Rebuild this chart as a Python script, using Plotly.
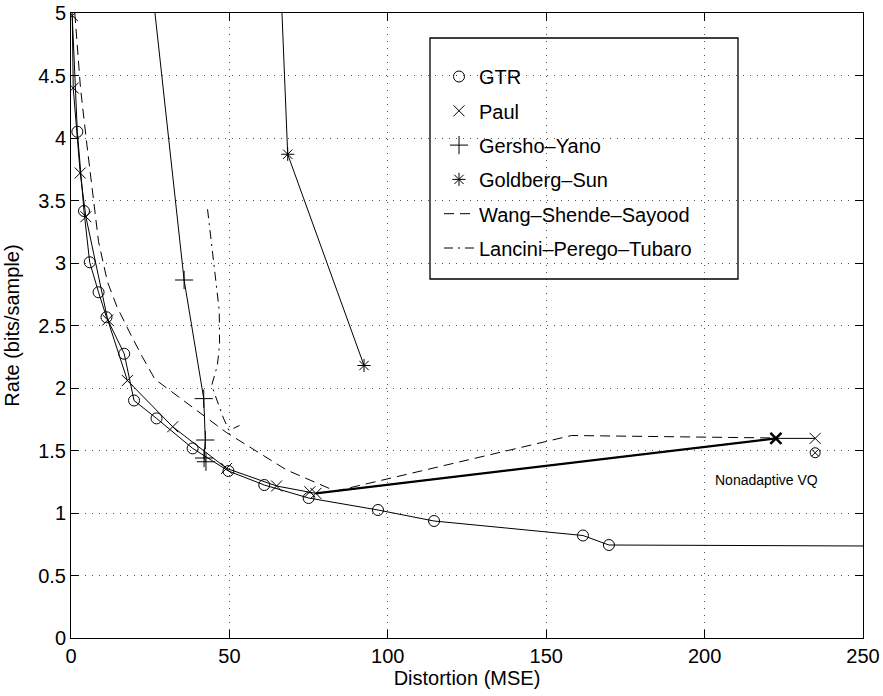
import plotly.graph_objects as go

# ---------------- data ----------------
gtr_x = [0.0, 2.0, 4.1, 5.9, 8.7, 11.2, 16.8, 19.9, 27.0, 38.4, 49.7, 61.0, 75.0, 96.9, 114.6, 161.6, 169.8, 262.0]
gtr_y = [5.2, 4.05, 3.416, 3.006, 2.766, 2.566, 2.274, 1.90, 1.757, 1.517, 1.336, 1.224, 1.12, 1.024, 0.936, 0.82, 0.744, 0.735]

paul_x = [0.4, 0.7, 2.9, 4.7, 11.6, 17.8, 32.1, 49.1, 64.9, 75.4, 77.3, 222.5, 234.9]
paul_y = [4.98, 4.40, 3.72, 3.37, 2.544, 2.06, 1.69, 1.357, 1.216, 1.17, 1.157, 1.597, 1.597]

gy_x = [22.2, 35.7, 41.9, 42.4, 42.0, 42.6]
gy_y = [6.0, 2.864, 1.915, 1.584, 1.44, 1.41]

gs_x = [64.2, 68.4, 92.5]
gs_y = [6.5, 3.87, 2.18]

wss_x = [1.2, 3.0, 5.0, 7.0, 8.7, 11.5, 14.5, 19.0, 22.5, 26.5, 49.0, 68.0, 83.5, 158.0, 222.5]
wss_y = [5.0, 4.4, 3.95, 3.5, 3.17, 2.85, 2.65, 2.42, 2.25, 2.07, 1.645, 1.345, 1.175, 1.62, 1.60]

lpt_x = [43.1, 46.8, 46.9, 46.2, 44.4, 48.1, 49.9, 53.2]
lpt_y = [3.43, 2.62, 2.35, 2.18, 2.02, 1.76, 1.66, 1.70]

nvq_x = [234.9]
nvq_y = [1.482]
nvq_label = "Nonadaptive VQ"
nvq_label_pos = (202.6, 1.264)

x_ticks = [0, 50, 100, 150, 200, 250]
y_ticks = [0, 0.5, 1, 1.5, 2, 2.5, 3, 3.5, 4, 4.5, 5]

FONT = "Liberation Sans, Arial, Helvetica, sans-serif"
BLACK = "black"

fig = go.Figure()

# lines (no legend)
for xs, ys in [(gtr_x, gtr_y), (paul_x, paul_y), (gy_x, gy_y), (gs_x, gs_y)]:
    fig.add_trace(go.Scatter(x=xs, y=ys, mode="lines", line=dict(color=BLACK, width=1),
                             showlegend=False, hoverinfo="skip"))
# bold Paul segment toward nonadaptive VQ
fig.add_trace(go.Scatter(x=paul_x[-3:-1], y=paul_y[-3:-1], mode="lines",
                         line=dict(color=BLACK, width=2.2), showlegend=False, hoverinfo="skip"))

# markers (legend entries)
fig.add_trace(go.Scatter(x=gtr_x, y=gtr_y, mode="markers", name="GTR", legendgroup="a",
                         marker=dict(symbol="circle-open", size=11, color=BLACK, line=dict(width=1))))
fig.add_trace(go.Scatter(x=paul_x, y=paul_y, mode="markers", name="Paul", legendgroup="b",
                         marker=dict(symbol="x-thin-open", size=11, color=BLACK, line=dict(width=1))))
fig.add_trace(go.Scatter(x=gy_x, y=gy_y, mode="markers", name="Gersho–Yano", legendgroup="c",
                         marker=dict(symbol="cross-thin-open", size=13, color=BLACK, line=dict(width=1))))
fig.add_trace(go.Scatter(x=gs_x, y=gs_y, mode="markers", name="Goldberg–Sun", legendgroup="d",
                         marker=dict(symbol="asterisk-open", size=11, color=BLACK, line=dict(width=1))))
fig.add_trace(go.Scatter(x=wss_x, y=wss_y, mode="lines", name="Wang–Shende–Sayood", legendgroup="e",
                         line=dict(color=BLACK, width=1, dash="10px,6px")))
fig.add_trace(go.Scatter(x=lpt_x, y=lpt_y, mode="lines", name="Lancini–Perego–Tubaro", legendgroup="f",
                         line=dict(color=BLACK, width=1, dash="9px,5px,2px,5px")))

# bold X at the nonadaptive point of Paul
fig.add_trace(go.Scatter(x=paul_x[-2:-1], y=paul_y[-2:-1], mode="markers", showlegend=False,
                         marker=dict(symbol="x-thin-open", size=11, color=BLACK, line=dict(width=2.5)),
                         hoverinfo="skip"))
# Nonadaptive VQ marker
fig.add_trace(go.Scatter(x=nvq_x, y=nvq_y, mode="markers", showlegend=False,
                         marker=dict(symbol="circle-x-open", size=10, color=BLACK, line=dict(width=1))))

fig.add_annotation(x=nvq_label_pos[0], y=nvq_label_pos[1], text=nvq_label, showarrow=False,
                   xanchor="left", yanchor="middle", font=dict(size=14, color=BLACK, family=FONT))

# legend border box
fig.add_shape(type="rect", xref="paper", yref="paper",
              x0=(430 - 71) / 792, x1=(738 - 71) / 792,
              y0=(638 - 279) / 625, y1=(638 - 38) / 625,
              line=dict(color=BLACK, width=1.3), fillcolor="rgba(0,0,0,0)", layer="above")

axis_common = dict(showline=True, linecolor=BLACK, linewidth=1, mirror="ticks", automargin=False,
                   ticks="inside", ticklen=8, tickcolor=BLACK, tickwidth=1,
                   showgrid=True, gridcolor="#555", gridwidth=1, griddash="1px,6px",
                   zeroline=False, tickfont=dict(size=20, color=BLACK, family=FONT))

fig.update_layout(
    template="none",
    width=883, height=696, autosize=False,
    margin=dict(l=71, r=20, t=13, b=58, pad=0),
    paper_bgcolor="white", plot_bgcolor="white",
    font=dict(family=FONT, size=20, color=BLACK),
    xaxis=dict(range=[0, 250], tickvals=x_ticks, title=dict(text="Distortion (MSE)", standoff=2,
               font=dict(size=20)), **axis_common),
    yaxis=dict(range=[0, 5], tickvals=y_ticks, title=dict(text="Rate (bits/sample)", standoff=13,
               font=dict(size=20)), **axis_common),
    legend=dict(x=(439 - 71) / 792, y=(638 - 57) / 625, xanchor="left", yanchor="top",
                bgcolor="rgba(0,0,0,0)", borderwidth=0, font=dict(size=20, color=BLACK, family=FONT),
                traceorder="grouped", tracegroupgap=5.3),
    showlegend=True,
)

fig.write_html("out.html", config={"displayModeBar": False},
               post_script="document.body.style.margin='0';")
